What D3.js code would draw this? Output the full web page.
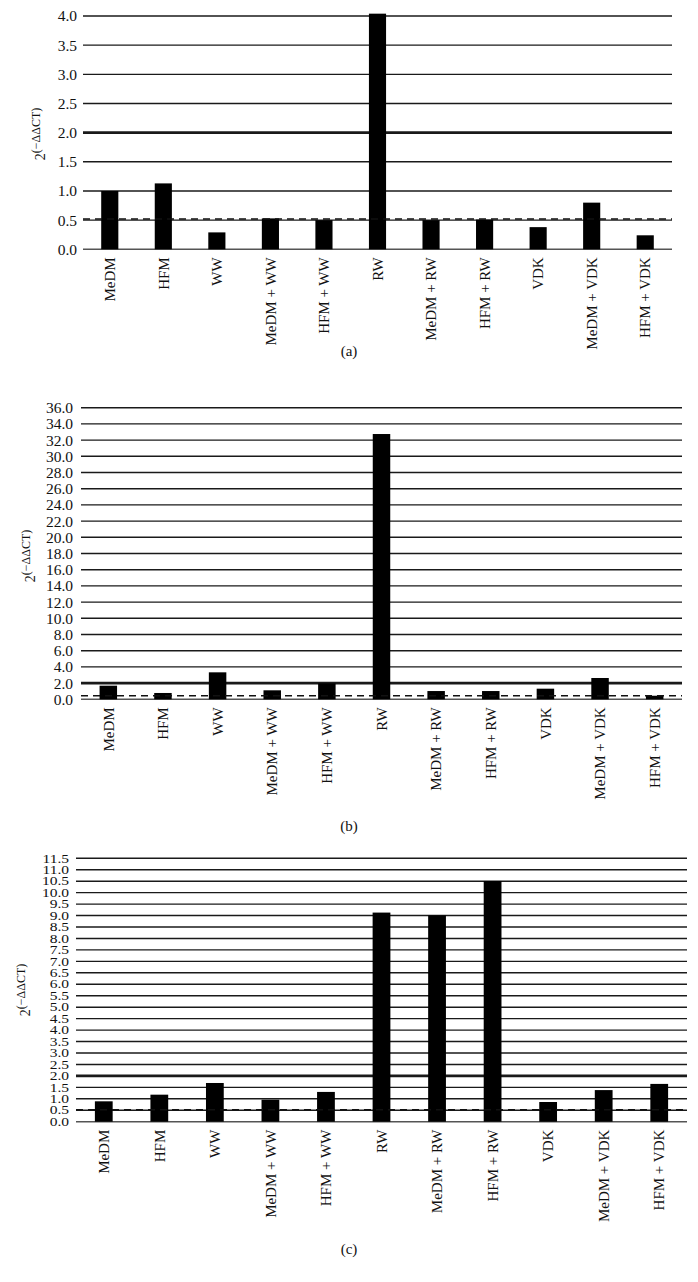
<!DOCTYPE html>
<html>
<head>
<meta charset="utf-8">
<script src="https://cdn.jsdelivr.net/npm/d3@7"></script>
<style>
    body { margin: 0; background: #fff; }
    svg text { font-family: "Liberation Serif", "DejaVu Serif", serif; fill: #111; }
</style>
</head>
<body>
<svg id="chart" width="698" height="1282"></svg>
<script>
// categories shared by the three panels
const categories = ["MeDM", "HFM", "WW", "MeDM + WW", "HFM + WW", "RW", "MeDM + RW", "HFM + RW", "VDK", "MeDM + VDK", "HFM + VDK"];

// values
const valuesA = [1.0, 1.13, 0.29, 0.53, 0.50, 4.04, 0.50, 0.51, 0.38, 0.80, 0.24];
const valuesB = [1.68, 0.78, 3.33, 1.11, 1.97, 32.75, 1.02, 1.02, 1.31, 2.63, 0.44];
const valuesC = [0.89, 1.18, 1.69, 0.96, 1.30, 9.13, 9.01, 10.51, 0.86, 1.38, 1.65];

// dashed reference lines
const cutoffA = 0.52;
const cutoffB = 0.44;
const cutoffC = 0.52;

// tick labels
const ticksA = [0, 0.5, 1, 1.5, 2, 2.5, 3, 3.5, 4];
const ticksB = [0, 2, 4, 6, 8, 10, 12, 14, 16, 18, 20, 22, 24, 26, 28, 30, 32, 34, 36];
const ticksC = [0, 0.5, 1, 1.5, 2, 2.5, 3, 3.5, 4, 4.5, 5, 5.5, 6, 6.5, 7, 7.5, 8, 8.5, 9, 9.5, 10, 10.5, 11, 11.5];

const captions = ["(a)", "(b)", "(c)"];

const svg = d3.select("#chart");

function drawPanel(values, ticks, cutoff, caption, box) {
    const g = svg.append("g");

    const x = d3.scaleBand()
        .domain(categories)
        .range([box.left, box.right])
        .paddingInner(0.68)
        .paddingOuter(0.34);

    const y = d3.scaleLinear()
        .domain([0, ticks[ticks.length - 1]])
        .range([box.bottom, box.top]);

    // grille horizontale
    g.selectAll("line.grid")
        .data(ticks)
        .enter()
        .append("line")
        .attr("class", "grid")
        .attr("x1", box.left)
        .attr("x2", box.right)
        .attr("y1", d => y(d))
        .attr("y2", d => y(d))
        .attr("stroke", d => d === 0 ? "#555" : "#1a1a1a")
        .attr("stroke-width", d => d === 2 ? 2.6 : 1.4);

    // tick labels
    const yAxis = d3.axisLeft(y)
        .tickValues(ticks)
        .tickFormat(d3.format(".1f"))
        .tickSize(0)
        .tickPadding(box.tickGap);
    const axisG = g.append("g")
        .attr("transform", `translate(${box.left},0)`)
        .call(yAxis);
    axisG.select(".domain").remove();
    axisG.selectAll("text")
        .attr("font-size", 15.5)
        .attr("transform", `scale(1,${box.tickSquash})`)
        .style("font-family", '"Liberation Serif", "DejaVu Serif", serif')
        .attr("fill", "#111");

    // barres
    g.selectAll("rect")
        .data(values)
        .enter()
        .append("rect")
        .attr("x", (d, i) => x(categories[i]))
        .attr("y", d => y(d))
        .attr("width", x.bandwidth())
        .attr("height", d => y(0) - y(d))
        .attr("fill", "#000");

    // dashed line
    g.append("line")
        .attr("x1", box.left)
        .attr("x2", box.right)
        .attr("y1", y(cutoff))
        .attr("y2", y(cutoff))
        .attr("stroke", "#111")
        .attr("stroke-width", 1.4)
        .attr("stroke-dasharray", "7,5");

    // rotated category labels
    g.selectAll("text.cat")
        .data(categories)
        .enter()
        .append("text")
        .attr("class", "cat")
        .attr("transform", d => `translate(${x(d) + x.bandwidth() / 2},${box.bottom + 8}) rotate(-90)`)
        .attr("text-anchor", "end")
        .attr("dy", "0.35em")
        .attr("font-size", 15)
        .text(d => d);

    // y title 2^(−ΔΔCT)
    const title = g.append("text")
        .attr("transform", `translate(${box.titleX},${box.titleY}) rotate(-90)`)
        .attr("text-anchor", "middle")
        .attr("font-size", 14);
    title.append("tspan").text("2");
    title.append("tspan")
        .attr("dy", -5)
        .attr("font-size", 12)
        .text("(−ΔΔCT)");

    // caption
    g.append("text")
        .attr("x", 349)
        .attr("y", box.captionY)
        .attr("text-anchor", "middle")
        .attr("font-size", 15)
        .text(caption);
}

drawPanel(valuesA, ticksA, cutoffA, captions[0],
    { top: 16, bottom: 249.3, left: 83, right: 672, tickGap: 6, tickSquash: 1, titleX: 45, titleY: 134, captionY: 356 });
drawPanel(valuesB, ticksB, cutoffB, captions[1],
    { top: 407.7, bottom: 699.3, left: 81, right: 682, tickGap: 8, tickSquash: 1, titleX: 35, titleY: 556, captionY: 831 });
drawPanel(valuesC, ticksC, cutoffC, captions[2],
    { top: 858.3, bottom: 1121.7, left: 76, right: 687, tickGap: 7, tickSquash: 0.75, titleX: 30, titleY: 990, captionY: 1254 });
</script>
</body>
</html>
